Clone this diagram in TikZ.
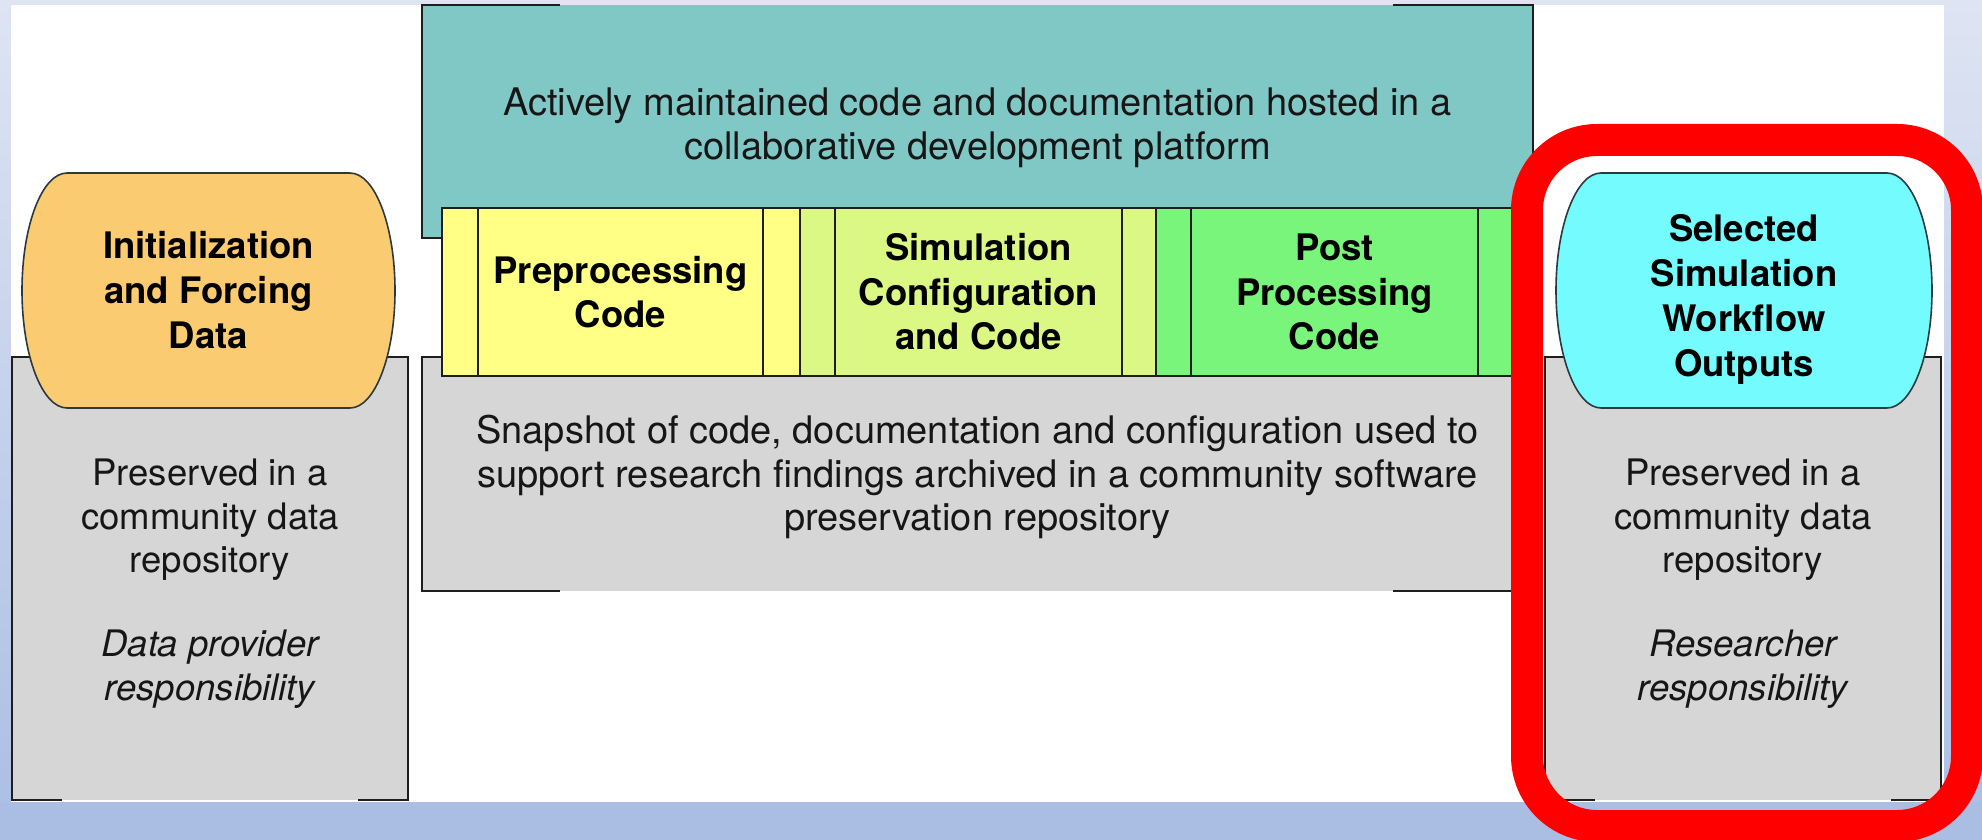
\documentclass[tikz,border=0pt]{standalone}
\usepackage{fontspec}
\setmainfont{TeX Gyre Heros}
\definecolor{tealbox}{HTML}{80C8C6}
\definecolor{graybox}{HTML}{D6D6D6}
\definecolor{orangepill}{HTML}{FBCB72}
\definecolor{cyanpill}{HTML}{74FBFD}
\definecolor{yellowseg}{HTML}{FFFF85}
\definecolor{limeseg}{HTML}{DBF884}
\definecolor{greenseg}{HTML}{79F57C}
\definecolor{edge}{HTML}{1E1E1E}
\definecolor{pilledge}{HTML}{2A3A40}
\definecolor{textdark}{HTML}{161616}
\definecolor{bandblue}{HTML}{AABEE4}
\definecolor{paleblue}{HTML}{DEE4F2}
\definecolor{alertred}{HTML}{FF0000}
\begin{document}
\begin{tikzpicture}[x=1pt,y=-1pt,
  box/.style={draw=none, inner sep=0pt, outer sep=0pt, anchor=north west},
  frame/.style={draw=edge, line width=1.8pt},
  seg/.style={draw=edge, line width=1.8pt, inner sep=0pt, outer sep=0pt,
    anchor=north west, minimum height=168pt, align=center,
    font=\fontsize{36.5}{44.5}\selectfont\bfseries},
  pillshape/.style={draw=pilledge, line width=1.6pt},
  bodytext/.style={font=\fontsize{36.5}{43.5}\selectfont, text=textdark,
    align=center, inner sep=0pt},
  widetext/.style={font=\fontsize{38}{43.5}\selectfont, text=textdark,
    align=center, inner sep=0pt},
  notetext/.style={font=\fontsize{36.5}{43.5}\selectfont\itshape, text=textdark,
    align=center, inner sep=0pt},
  boldtext/.style={font=\fontsize{36.5}{45}\selectfont\bfseries, text=black,
    align=center, inner sep=0pt}]

% page and slide background
\useasboundingbox (0,0) rectangle (1982,840);
\shade[top color=paleblue, bottom color=bandblue] (0,0) rectangle (1982,840);
\fill[white] (11,5) rectangle (1944,802);
\fill[bandblue] (0,802) rectangle (1982,840);

% development platform (top band)
\node[box, fill=tealbox, minimum width=1111pt, minimum height=233pt] (platform) at (422,5) {};
\draw[frame] ([xshift=138pt]platform.north west) -- (platform.north west)
  -- (platform.south west) -- ([xshift=20pt]platform.south west);
\draw[frame] ([xshift=-140pt]platform.north east) -- (platform.north east)
  -- (platform.south east);
\node[widetext] (platformtext) at (977.5,128)
  {Actively maintained code and documentation hosted in a\\collaborative development platform};

% software preservation repository (lower band)
\node[box, fill=graybox, minimum width=1111pt, minimum height=234pt] (snapbox) at (422,357) {};
\draw[frame] ([xshift=20pt]snapbox.north west) -- (snapbox.north west)
  -- (snapbox.south west) -- ([xshift=138pt]snapbox.south west);
\draw[frame] ([xshift=-140pt]snapbox.south east) -- (snapbox.south east)
  -- (snapbox.north east);
\node[widetext] (snaptext) at (977.5,477)
  {Snapshot of code, documentation and configuration used to\\support research findings archived in a community software\\preservation repository};

% workflow code strip
\node[seg, fill=yellowseg, minimum width=36pt]  (preL)  at (442,208) {};
\node[seg, fill=yellowseg, minimum width=285pt] (pre)   at (478,208) {Preprocessing\\Code};
\node[seg, fill=yellowseg, minimum width=37pt]  (preR)  at (763,208) {};
\node[seg, fill=limeseg,   minimum width=35pt]  (simL)  at (800,208) {};
\node[seg, fill=limeseg,   minimum width=287pt] (sim)   at (835,208) {Simulation\\Configuration\\and Code};
\node[seg, fill=limeseg,   minimum width=34pt]  (simR)  at (1122,208) {};
\node[seg, fill=greenseg,  minimum width=35pt]  (postL) at (1156,208) {};
\node[seg, fill=greenseg,  minimum width=287pt] (post)  at (1191,208) {Post\\Processing\\Code};
\node[seg, fill=greenseg,  minimum width=35pt]  (postR) at (1478,208) {};

% input data column
\node[box, fill=graybox, minimum width=396pt, minimum height=443pt] (lbox) at (12,357) {};
\draw[frame] ([xshift=50pt]lbox.south west) -- (lbox.south west) -- (lbox.north west)
  -- (lbox.north east) -- (lbox.south east) -- ([xshift=-50pt]lbox.south east);
\path[pillshape, fill=orangepill] (67,173) -- (350,173)
  arc[start angle=90, end angle=-90, x radius=45pt, y radius=117.5pt] -- (67,408)
  arc[start angle=270, end angle=90, x radius=45pt, y radius=117.5pt] -- cycle;
\node[boldtext] (inputs) at (208.5,290) {Initialization\\and Forcing\\Data};
\node[bodytext] (lkeep) at (210,520) {Preserved in a\\community data\\repository};
\node[notetext] (lwho) at (210,669) {Data provider\\responsibility};

% output column
\node[box, fill=graybox, minimum width=396pt, minimum height=443pt] (rbox) at (1545,357) {};
\draw[frame] ([xshift=50pt]rbox.south west) -- (rbox.south west) -- (rbox.north west)
  -- (rbox.north east) -- (rbox.south east) -- ([xshift=-50pt]rbox.south east);
\path[pillshape, fill=cyanpill] (1601,173) -- (1887,173)
  arc[start angle=90, end angle=-90, x radius=45pt, y radius=117.5pt] -- (1601,408)
  arc[start angle=270, end angle=90, x radius=45pt, y radius=117.5pt] -- cycle;
\node[boldtext] (outputs) at (1744,299.5) {Selected\\Simulation\\Workflow\\Outputs};
\node[bodytext] (rkeep) at (1743,520) {Preserved in a\\community data\\repository};
\node[notetext] (rwho) at (1743,669) {Researcher\\responsibility};

% highlight frame around the output column
\draw[alertred, line width=32pt, rounded corners=70pt] (1527,140) rectangle (1967,826);
\end{tikzpicture}
\end{document}
